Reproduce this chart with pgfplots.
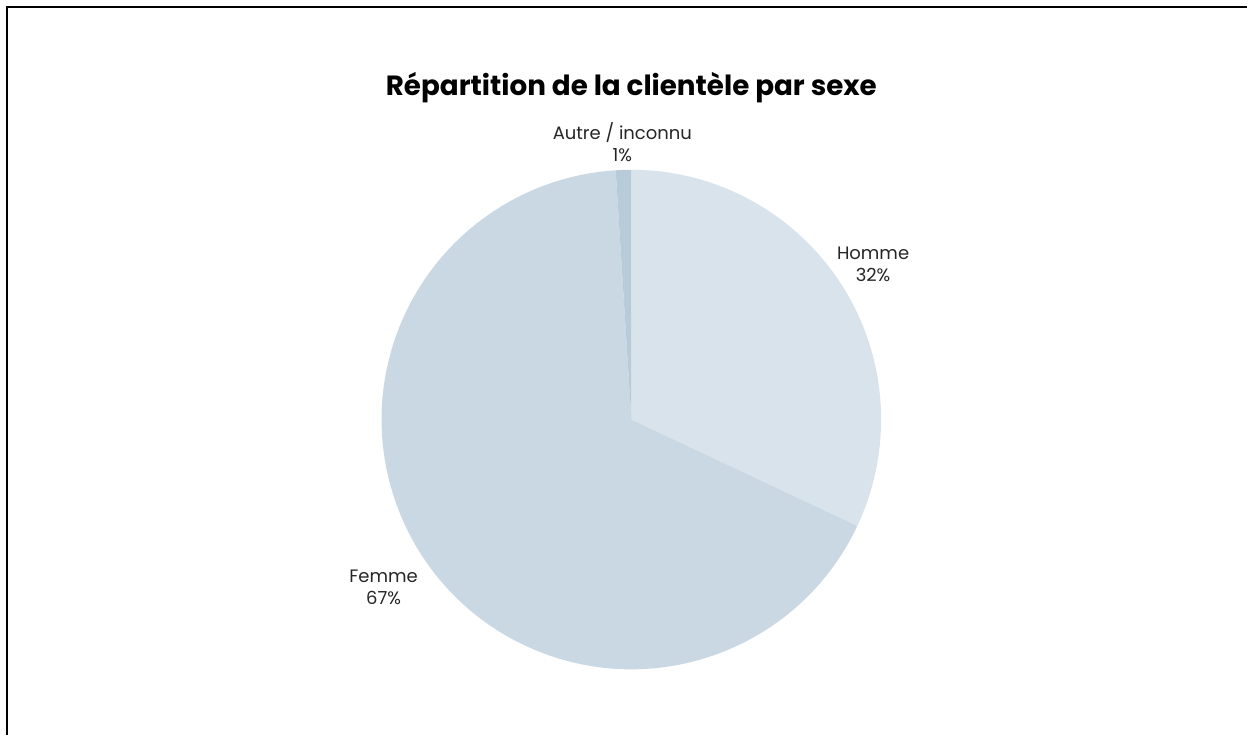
\documentclass[border=0pt]{standalone}
\usepackage{pgfplots}
\pgfplotsset{compat=1.18}
\usepackage{fontspec}
\setmainfont{Poppins}

\definecolor{homme}{HTML}{D9E3EC}
\definecolor{femme}{HTML}{C9D8E3}
\definecolor{autre}{HTML}{B7CBD9}

% parts du camembert, en pour cent, dans le sens des aiguilles d'une montre depuis le haut
\def\pieHomme{32}
\def\pieFemme{67}
\def\pieAutre{1}

\begin{document}
\begin{tikzpicture}
  \begin{axis}[
    hide axis,
    scale only axis,
    width=624pt, height=368pt,
    xmin=0, xmax=1248, ymin=0, ymax=736,
    clip=false,
  ]
  % cadre (coin haut gauche seulement)
  \path (axis cs:0,0) rectangle (axis cs:1248,736);
  \draw[black, line width=1.3pt] (axis cs:7,0) -- (axis cs:7,729) -- (axis cs:1248,729);

  % secteurs
  \pgfmathsetmacro{\aA}{90}
  \pgfmathsetmacro{\aB}{90-3.6*\pieHomme}
  \pgfmathsetmacro{\aC}{\aB-3.6*\pieFemme}
  \pgfmathsetmacro{\aD}{\aC-3.6*\pieAutre}
  \fill[homme] (axis cs:632,316) -- ++(\aA:125pt) arc[start angle=\aA, end angle=\aB, radius=125pt] -- cycle;
  \fill[femme] (axis cs:632,316) -- ++(\aB:125pt) arc[start angle=\aB, end angle=\aC, radius=125pt] -- cycle;
  \fill[autre] (axis cs:632,316) -- ++(\aC:125pt) arc[start angle=\aC, end angle=\aD, radius=125pt] -- cycle;

  % textes
  \node[font=\fontsize{13.9}{16}\selectfont\bfseries] at (axis cs:632,648) {Répartition de la clientèle par sexe};
  \node[font=\fontsize{9}{11}\selectfont, align=center, text=black!85] at (axis cs:623,594) {Autre / inconnu\\\pieAutre\%};
  \node[font=\fontsize{9}{11}\selectfont, align=center, text=black!85] at (axis cs:874,471) {Homme\\\pieHomme\%};
  \node[font=\fontsize{9}{11}\selectfont, align=center, text=black!85] at (axis cs:384,148) {Femme\\\pieFemme\%};
  \end{axis}
\end{tikzpicture}
\end{document}
